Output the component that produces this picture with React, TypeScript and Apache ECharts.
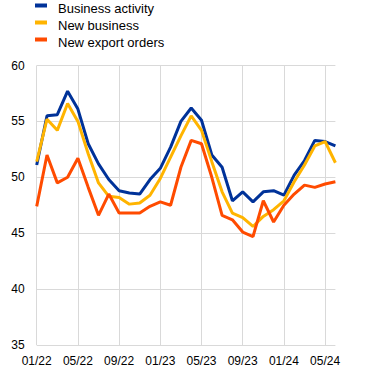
import React, { useEffect, useRef } from "react";
import * as echarts from "echarts";

const months = [
  "01/22", "02/22", "03/22", "04/22", "05/22", "06/22", "07/22", "08/22", "09/22", "10/22", "11/22", "12/22",
  "01/23", "02/23", "03/23", "04/23", "05/23", "06/23", "07/23", "08/23", "09/23", "10/23", "11/23", "12/23",
  "01/24", "02/24", "03/24", "04/24", "05/24", "06/24",
];

const businessActivity = [
  51.1, 55.5, 55.6, 57.7, 56.1, 53.0, 51.2, 49.8, 48.8, 48.6, 48.5, 49.8,
  50.8, 52.7, 55.0, 56.2, 55.1, 52.0, 50.9, 47.9, 48.7, 47.8, 48.7, 48.8,
  48.4, 50.2, 51.5, 53.3, 53.2, 52.8,
];

const newBusiness = [
  51.4, 55.2, 54.2, 56.6, 55.0, 52.1, 49.5, 48.3, 48.2, 47.6, 47.7, 48.4,
  49.9, 51.8, 53.7, 55.5, 54.2, 51.4, 48.7, 46.8, 46.4, 45.6, 46.5, 47.1,
  47.9, 49.6, 51.1, 52.8, 53.2, 51.3,
];

const newExportOrders = [
  47.4, 52.0, 49.5, 50.0, 51.7, 49.1, 46.6, 48.5, 46.8, 46.8, 46.8, 47.4,
  47.8, 47.5, 50.9, 53.3, 53.0, 50.0, 46.6, 46.2, 45.1, 44.7, 47.9, 46.0,
  47.5, 48.5, 49.3, 49.1, 49.4, 49.6,
];

const yTicks = { min: 35, max: 60, interval: 5 };

const FONT = 'Arial, "Liberation Sans", sans-serif';
const LEGEND_ICON = "path://M0,0L12,0L12,4L0,4Z M0,10L12,10L0,10Z";

export default function App() {
  const ref = useRef<HTMLDivElement>(null);

  useEffect(() => {
    if (!ref.current) return;
    const chart = echarts.init(ref.current, null, { renderer: "svg" });
    chart.setOption({
      animation: false,
      backgroundColor: "#fff",
      textStyle: { fontFamily: FONT },
      legend: {
        orient: "vertical",
        left: 35,
        top: 2,
        padding: 0,
        itemWidth: 12,
        itemHeight: 10,
        itemGap: 4,
        icon: LEGEND_ICON,
        itemStyle: { borderWidth: 0 },
        textStyle: { fontSize: 13, color: "#000", fontFamily: FONT, padding: [0, 0, 0, 6] },
        data: ["Business activity", "New business", "New export orders"],
      },
      grid: { left: 36.7, right: 30.6, top: 65.5, bottom: 27, containLabel: false },
      xAxis: {
        type: "category",
        data: months,
        boundaryGap: false,
        axisLine: { show: false },
        axisTick: { show: false },
        axisLabel: { interval: 3, fontSize: 12, color: "#000", margin: 10, fontFamily: FONT },
        splitLine: { show: true, interval: 3, lineStyle: { color: "#d9d9d9", width: 1 } },
      },
      yAxis: {
        type: "value",
        min: yTicks.min,
        max: yTicks.max,
        interval: yTicks.interval,
        axisLine: { show: false },
        axisTick: { show: false },
        axisLabel: { fontSize: 12, color: "#000", margin: 12, fontFamily: FONT },
        splitLine: { show: true, lineStyle: { color: "#d9d9d9", width: 1 } },
      },
      series: [
        {
          name: "Business activity",
          type: "line",
          data: businessActivity,
          showSymbol: false,
          symbol: "none",
          lineStyle: { color: "#003299", width: 3 },
          itemStyle: { color: "#003299" },
        },
        {
          name: "New business",
          type: "line",
          data: newBusiness,
          showSymbol: false,
          symbol: "none",
          lineStyle: { color: "#ffb400", width: 3 },
          itemStyle: { color: "#ffb400" },
        },
        {
          name: "New export orders",
          type: "line",
          data: newExportOrders,
          showSymbol: false,
          symbol: "none",
          lineStyle: { color: "#ff4b00", width: 3 },
          itemStyle: { color: "#ff4b00" },
        },
      ],
    });
    return () => chart.dispose();
  }, []);

  return (
    <div
      ref={ref}
      style={{ position: "fixed", left: 0, top: 0, width: 366, height: 372 }}
    />
  );
}
